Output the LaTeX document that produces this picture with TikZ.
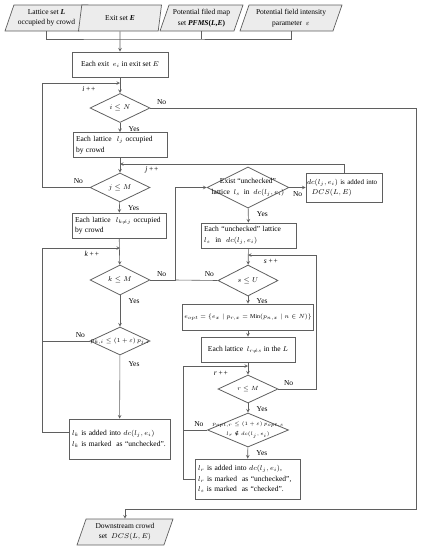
\documentclass[tikz,border=0pt]{standalone}
\usepackage{fontspec}
\setmainfont{Liberation Serif}
\newfontfamily\symfnt{DejaVu Serif}
\newcommand{\nin}{\mathrel{\hbox{\symfnt ∉}}}
\usetikzlibrary{shapes.geometric, positioning}
\definecolor{linec}{RGB}{95,95,95}
\definecolor{iofill}{RGB}{236,236,236}

\begin{document}
\begin{tikzpicture}[x=1pt, y=-1pt,
  font=\fontsize{7.5}{10.5}\selectfont,
  line/.style={draw=linec, line width=0.6pt},
  arr/.style={line, -stealth},
  process/.style={rectangle, draw=linec, line width=0.8pt, inner sep=2pt, minimum height=25pt},
  io/.style={trapezium, trapezium left angle=65, trapezium right angle=115,
    trapezium stretches body, draw=linec, fill=iofill, line width=0.7pt,
    align=center, inner sep=1pt, minimum height=26pt},
  decision/.style={diamond, draw=linec, line width=0.8pt, inner sep=0pt,
    minimum width=60pt, minimum height=29pt},
  yes/.style={below right, pos=0, xshift=5pt},
  small/.style={font=\fontsize{6}{8}\selectfont},
  tiny/.style={font=\fontsize{5.5}{10.5}\selectfont}]
  \useasboundingbox (0,0) rectangle (424,550);

  \foreach \nm/\x/\w/\txt in {
    inL/46.5/83/{Lattice set \textbf{\textit{L}}\\occupied by crowd},
    inE/120/83/{Exit set \textbf{\textit{E}}},
    inF/201.5/83/{Potential filed map\\set \textbf{\textit{PFMS}(\textit{L},\textit{E})}},
    inP/291/102/{Potential field intensity\\parameter \ $\varepsilon$}}
    \node[io, minimum width=\w pt] (\nm) at (\x,18) {\txt};

  \node[process, minimum width=96pt] (exit) at (120,64.5) {Each exit \ $e_i$ in exit set $E$};
  \node[decision, label=center:{$i\leq N$}] (di) at (120,108) {};
  \node[process, minimum width=94pt, text width=88pt, align=left] (lj) at (120,145)
    {Each lattice \ $l_j$ occupied\\by crowd};
  \node[decision, label=center:{$j\leq M$}] (dj) at (120,187.5) {};
  \node[process, minimum width=94pt, text width=88pt, align=left] (lk) at (119,225.5)
    {Each lattice \ $l_{k\neq j}$ occupied\\by crowd};
  \node[decision, minimum height=30pt, label=center:{$k\leq M$}] (dk) at (120,280) {};
  \node[decision, minimum height=28pt, label={[small]center:{$p_{k,i}\leq(1+\varepsilon)\,p_{j,i}$}}] (dp) at (120,341) {};
  \node[process, minimum width=101pt, minimum height=40pt, text width=95pt, align=left] (add1) at (119.5,439)
    {$l_k$ is added into $dc(l_j,e_i)$\\$l_k$ is marked \ as ``unchecked''.};

  \node[decision, minimum width=82pt, minimum height=41pt,
    label={[align=center]center:{Exist ``unchecked''\\lattice \ $l_s$ \ in \ $dc(l_j,e_i)$}}] (d5) at (248,187.5) {};
  \node[process, font=\fontsize{7}{10}\selectfont, minimum width=76pt, minimum height=29pt,
    text width=74pt, align=left, inner sep=1pt] (dcs) at (344,187.5)
    {$dc(l_j,e_i)$ is added into\\\ \ $DCS(L,E)$};
  \node[process, minimum width=95pt, text width=89pt, align=left] (uc) at (248.5,235.5)
    {Each ``unchecked'' lattice\\$l_s$ \ in \ $dc(l_j,e_i)$};
  \node[decision, minimum height=31pt, label=center:{$s\leq U$}] (ds) at (248,280.5) {};
  \node[process, small, minimum width=117pt, minimum height=26pt] (eopt) at (248,317)
    {$e_{opt}=\{e_x\mid p_{r,x}=\mathrm{Min}(p_{n,x}\mid n\in N)\}$};
  \node[process, minimum width=94pt] (lr) at (248,349.5) {Each lattice \ $l_{r\neq s}$ in the $L$};
  \node[decision, minimum height=28pt, label={[small]center:{$r\leq M$}}] (dr) at (248,389) {};
  \node[decision, minimum width=81pt, minimum height=34pt,
    label={[tiny, align=center]center:{$p_{opt,r}\leq(1+\varepsilon)\,p_{opt,s}$\\$l_r\nin dc(l_j,e_i)$}}] (dq) at (248,430) {};
  \node[process, minimum width=105pt, minimum height=40pt, text width=99pt, align=left] (add2) at (247.5,479)
    {$l_r$ is added into $dc(l_j,e_i)$,\\$l_r$ is marked \ as ``unchecked'',\\$l_s$ is marked \ as ``checked''.};

  \node[io, minimum width=96pt] (out) at (125,532) {Downstream crowd\\set \ $DCS(L,E)$};

  % loop counters
  \node (ipp) at (89,89) {\textit{i\,++}};
  \node (jpp) at (152,170) {\textit{j\,++}};
  \node (kpp) at (92,254) {\textit{k\,++}};
  \node (spp) at (271,261) {\textit{s\,++}};
  \node (rpp) at (221,373) {\textit{r\,++}};

  \coordinate (hub) at (120,39);
  \coordinate (il) at (42,83);   \coordinate (iin) at (120,83);
  \coordinate (jin) at (120,164);
  \coordinate (kl) at (42,248);  \coordinate (kin) at (120,248);
  \coordinate (kx) at (175,280);
  \coordinate (sl) at (316,255); \coordinate (sin) at (248,255);
  \coordinate (rl) at (183,366); \coordinate (rin) at (248,366);
  \coordinate (fr) at (416,509);

  \draw[line] (inL.south) |- (hub) -| (inP.south);
  \draw[line] (inF.south) -- (inF.south |- hub);
  \draw[arr] (inE.south) -- (exit.north);
  \draw[arr] (exit) -- (di);
  \draw[arr] (di) -- node[yes] {Yes} (lj);
  \draw[arr] (lj) -- (dj);
  \draw[arr] (dj) -- node[yes] {Yes} (lk);
  \draw[arr] (lk) -- (dk);
  \draw[arr] (dk) -- node[yes] {Yes} (dp);
  \draw[arr] (dp) -- node[yes, yshift=-3pt] {Yes} (add1);
  \draw[arr] (di.east) -- node[above right, pos=0, xshift=3pt] {No} (di.east -| fr) -- (fr) -| (out.north);
  \draw[arr] (dj.west) -- node[above left, pos=0, xshift=-3pt] {No} (dj.west -| il) |- (iin);
  \draw[arr] (dp.west) -- node[above left, pos=0, xshift=-1pt] {No} (dp.west -| kl) |- (kin);
  \draw[line] ([yshift=7pt]add1.west) -| (kl);
  \draw[arr] (dk.east) -- node[above right, pos=0, xshift=3pt] {No} (kx) |- (d5.west);

  \draw[arr] (d5) -- node[below right, pos=0] {No} (dcs);
  \draw[arr] (dcs.north) |- (jin);
  \draw[arr] (d5) -- node[yes] {Yes} (uc);
  \draw[arr] (uc) -- (ds);
  \draw[line] (ds.west) -- node[above left, pos=0] {No} (kx);
  \draw[arr] (ds) -- node[yes, yshift=1pt] {Yes} (eopt);
  \draw[arr] (eopt) -- (lr);
  \draw[arr] (lr) -- (dr);
  \draw[arr] (dr.east) -- node[above right, pos=0, xshift=2pt] {No} (dr.east -| sl) |- (sin);
  \draw[arr] (dr) -- node[yes] {Yes} (dq);
  \draw[arr] (dq.west) -- node[above left, pos=0] {No} (dq.west -| rl) |- (rin);
  \draw[arr] (dq) -- node[yes] {Yes} (add2);
  \draw[line] (add2.west) -| (rl);
\end{tikzpicture}
\end{document}
